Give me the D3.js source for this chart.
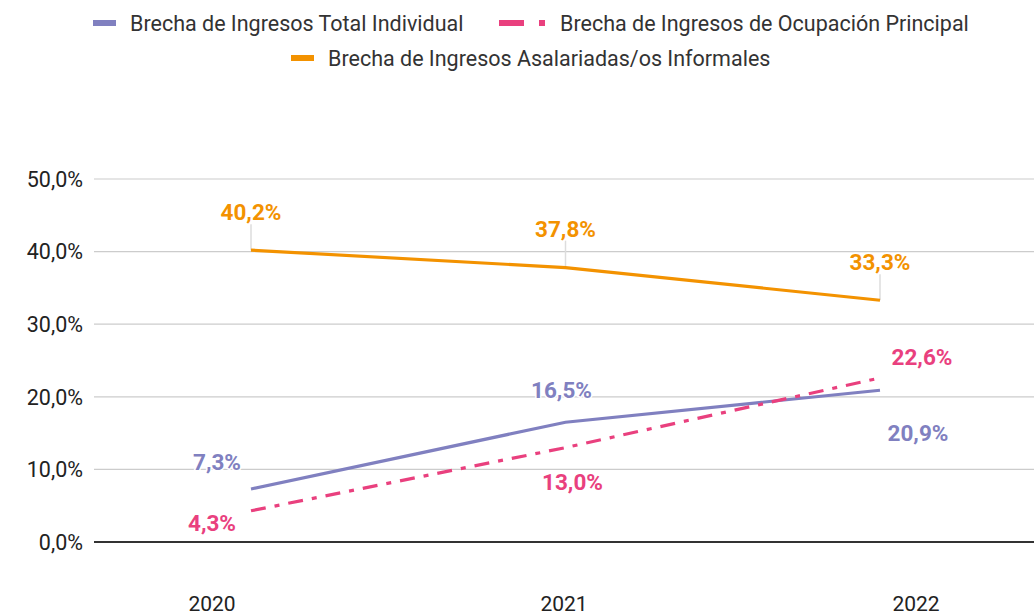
<!DOCTYPE html>
<html>
<head>
<meta charset="utf-8">
<script src="https://cdn.jsdelivr.net/npm/d3@7"></script>
<style>
  body { margin: 0; background: #fff; }
  text { font-family: Roboto, "Noto Sans", sans-serif; }
</style>
</head>
<body>
<div id="chart"></div>
<script>
// data
var years = ["2020", "2021", "2022"];
var totalIndividual = [7.3, 16.5, 20.9];
var ocupacionPrincipal = [4.3, 13.0, 22.6];
var asalariadasInformales = [40.2, 37.8, 33.3];
var yTicks = [0, 10, 20, 30, 40, 50];

var width = 1034;
var height = 616;

var svg = d3.select("#chart")
  .append("svg")
  .attr("width", width)
  .attr("height", height);

var fmt = function (v) { return v.toFixed(1).replace(".", ",") + "%"; };

var y = d3.scaleLinear().domain([0, 50]).range([542, 179]);
// points sit on this scale, the category labels on the wider band below
var x = d3.scalePoint().domain(years).range([251, 880]);
var xLab = d3.scaleBand().domain(years).range([36, 1092]);

// grid
svg.append("g")
  .selectAll("line")
  .data(yTicks.filter(function (d) { return d > 0; }))
  .enter().append("line")
  .attr("x1", 94).attr("x2", width)
  .attr("y1", function (d) { return y(d); })
  .attr("y2", function (d) { return y(d); })
  .attr("stroke", "#cccccc")
  .attr("stroke-width", 1.2);

svg.append("line")
  .attr("x1", 94).attr("x2", width)
  .attr("y1", y(0)).attr("y2", y(0))
  .attr("stroke", "#333")
  .attr("stroke-width", 2);

svg.append("g")
  .selectAll("text")
  .data(yTicks)
  .enter().append("text")
  .attr("x", 83)
  .attr("y", function (d) { return y(d); })
  .attr("dy", "0.36em")
  .attr("text-anchor", "end")
  .attr("font-size", 21.5)
  .attr("fill", "#222")
  .text(fmt);

svg.append("g")
  .selectAll("text")
  .data(years)
  .enter().append("text")
  .attr("x", function (d) { return xLab(d) + xLab.bandwidth() / 2; })
  .attr("y", 611)
  .attr("text-anchor", "middle")
  .attr("font-size", 21)
  .attr("fill", "#222")
  .text(function (d) { return d; });

var series = [
  { name: "Brecha de Ingresos Total Individual", values: totalIndividual, color: "#8080c0", dash: null,
    offs: [[-34, -19], [-4, -24], [38, 51]] },
  { name: "Brecha de Ingresos de Ocupación Principal", values: ocupacionPrincipal, color: "#e9407e", dash: "15,9,5,9",
    offs: [[-39, 20], [7, 42], [42, -13]] },
  { name: "Brecha de Ingresos Asalariadas/os Informales", values: asalariadasInformales, color: "#f39200", dash: null,
    offs: [[0, -30], [0, -31], [0, -30]], leader: true }
];

var line = d3.line()
  .x(function (d, i) { return x(years[i]); })
  .y(function (d) { return y(d); });

series.forEach(function (s) {
  if (s.leader) {
    svg.append("g")
      .selectAll("line")
      .data(s.values)
      .enter().append("line")
      .attr("x1", function (d, i) { return x(years[i]); })
      .attr("x2", function (d, i) { return x(years[i]); })
      .attr("y1", function (d, i) { return y(d) + s.offs[i][1] + 4; })
      .attr("y2", function (d) { return y(d); })
      .attr("stroke", "#dddddd")
      .attr("stroke-width", 1.5);
  }
  svg.append("path")
    .datum(s.values)
    .attr("fill", "none")
    .attr("stroke", s.color)
    .attr("stroke-width", 3.2)
    .attr("stroke-dasharray", s.dash)
    .attr("d", line);
});

series.forEach(function (s) {
  svg.append("g")
    .selectAll("text")
    .data(s.values)
    .enter().append("text")
    .attr("x", function (d, i) { return x(years[i]) + s.offs[i][0]; })
    .attr("y", function (d, i) { return y(d) + s.offs[i][1]; })
    .attr("text-anchor", "middle")
    .attr("font-size", 22.5)
    .attr("font-weight", "bold")
    .attr("fill", s.color)
    .attr("stroke", "#fff")
    .attr("stroke-width", 3)
    .attr("paint-order", "stroke")
    .text(fmt);
});

// legend
var legendPos = [[93, 23], [499, 23], [291, 58]];
series.forEach(function (s, i) {
  var g = svg.append("g").attr("transform", "translate(" + legendPos[i][0] + "," + legendPos[i][1] + ")");
  if (s.dash) {
    g.append("rect").attr("x", 0).attr("y", -3).attr("width", 25).attr("height", 6).attr("fill", s.color);
    g.append("rect").attr("x", 40).attr("y", -3).attr("width", 6).attr("height", 6).attr("fill", s.color);
  } else {
    g.append("rect").attr("x", 0).attr("y", -3).attr("width", 23).attr("height", 6).attr("fill", s.color);
  }
  g.append("text")
    .attr("x", s.dash ? 61 : 37)
    .attr("y", 0)
    .attr("dy", "0.35em")
    .attr("font-size", 21.5)
    .attr("fill", "#333")
    .text(s.name);
});
</script>
</body>
</html>
